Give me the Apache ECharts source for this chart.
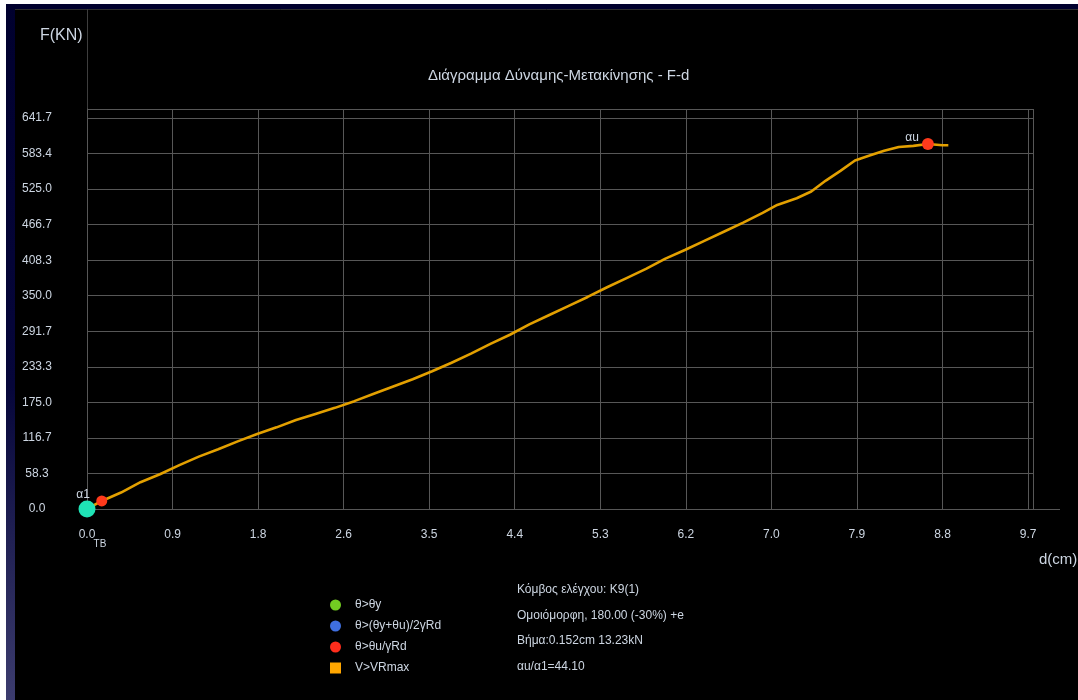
<!DOCTYPE html>
<html><head><meta charset="utf-8">
<script src="https://cdn.jsdelivr.net/npm/echarts@6/dist/echarts.min.js"></script>
<style>
html,body{margin:0;padding:0;background:#000;overflow:hidden;}
#chart{position:absolute;left:0;top:0;width:1078px;height:700px;}
.strip{position:absolute;}
</style></head><body>
<div id="chart"></div>
<div class="strip" style="left:0;top:0;width:6px;height:700px;background:#fff"></div>
<div class="strip" style="left:0;top:0;width:1078px;height:4px;background:#fff"></div>
<div class="strip" style="left:6px;top:4px;width:9px;height:696px;background:linear-gradient(#00002e,#06063a 55%,#3c3c6e)"></div>
<div class="strip" style="left:6px;top:4px;width:1072px;height:5px;background:#00002e"></div>
<script>
// ---- data ----
const dispCm = [0, 0.152, 0.35, 0.55, 0.75, 0.95, 1.15, 1.35, 1.55, 1.75, 1.95, 2.15, 2.35, 2.55, 2.75, 2.95, 3.15, 3.35, 3.55, 3.75, 3.95, 4.15, 4.35, 4.55, 4.75, 4.95, 5.15, 5.35, 5.55, 5.75, 5.95, 6.15, 6.35, 6.55, 6.75, 6.95, 7.1, 7.3, 7.45, 7.6, 7.75, 7.9, 8.05, 8.2, 8.35, 8.5, 8.65, 8.8, 8.86];
const forceKN = [0, 13.23, 27, 44, 57, 72, 86, 98, 111, 123, 134, 146, 156, 166, 177, 189, 201, 213, 226, 240, 255, 271, 286, 303, 318, 333, 348, 364, 379, 394, 411, 425, 440, 455, 470, 486, 499, 510, 521, 539, 555, 572, 580, 588, 594, 596, 599, 597, 597];
const xTickStep = 0.88;      // tick labels 0.0 ... 9.7
const xTickLast = 9.68;
const yTickStep = 58.3353;   // tick labels 0.0 ... 641.7
const yTickLast = 641.688;
const startPoint = [0, 0];           // α1 / TB
const firstYield = [0.152, 13.23];   // first red point
const ultimatePoint = [8.65, 599];   // αu
const legendNames = ['θ>θy', 'θ>(θy+θu)/2γRd', 'θ>θu/γRd', 'V>VRmax'];
const legendColors = ['#72cc22', '#3f6fe0', '#ff2d1c', '#ffa600'];
const legendIcons = ['circle', 'circle', 'circle', 'rect'];
const infoLines = ['Κόμβος ελέγχου: K9(1)', 'Ομοιόμορφη, 180.00 (-30%) +e', 'Βήμα:0.152cm 13.23kN', 'αu/α1=44.10'];
const titleText = 'Διάγραμμα Δύναμης-Μετακίνησης - F-d';

const FONT = 'Liberation Sans, Arial, sans-serif';
const TXT = '#cdd6e2';
const GRIDC = '#575757';

const chart = echarts.init(document.getElementById('chart'), null, {renderer: 'canvas'});
const curve = dispCm.map((d, i) => [d, forceKN[i]]);

const legendSeries = legendNames.map((n, i) => ({
  name: n, type: 'scatter', data: [], itemStyle: {color: legendColors[i], opacity: 1}
}));

chart.setOption({
  backgroundColor: '#000',
  animation: false,
  title: [
    {text: titleText, left: 423, top: 63, textStyle: {color: TXT, fontSize: 15, fontWeight: 'normal', fontFamily: FONT}},
    {text: 'F(KN)', left: 35, top: 23, textStyle: {color: TXT, fontSize: 16, fontWeight: 'normal', fontFamily: FONT}},
    {text: 'd(cm)', left: 1034, top: 547, textStyle: {color: TXT, fontSize: 15, fontWeight: 'normal', fontFamily: FONT}},
    {text: infoLines.join('\n'), left: 512, top: 572, textStyle: {color: TXT, fontSize: 12, lineHeight: 25.5, fontWeight: 'normal', fontFamily: FONT}}
  ],
  legend: {
    orient: 'vertical', left: 325, top: 594, itemWidth: 11, itemHeight: 11, itemGap: 9,
    textStyle: {color: TXT, fontSize: 12, fontFamily: FONT, lineHeight: 11, padding: [0, 0, 0, 9]},
    data: legendNames.map((n, i) => ({name: n, icon: legendIcons[i]})),
    selectedMode: false
  },
  grid: {left: 87, top: 109, width: 946, height: 400, containLabel: false},
  xAxis: {
    type: 'value', min: 0, max: xTickLast + 0.051, interval: xTickStep,
    axisLine: {show: true, lineStyle: {color: GRIDC, width: 1}},
    axisTick: {show: false},
    splitLine: {show: true, lineStyle: {color: GRIDC, width: 1}},
    axisLabel: {color: TXT, fontSize: 12, fontFamily: FONT, margin: 20,
      formatter: v => v > xTickLast + 0.01 ? '' : v.toFixed(1)}
  },
  yAxis: {
    type: 'value', min: 0, max: yTickLast + 14.8, interval: yTickStep,
    axisLine: {show: true, lineStyle: {color: GRIDC, width: 1}},
    axisTick: {show: false},
    splitLine: {show: true, lineStyle: {color: GRIDC, width: 1}},
    axisLabel: {color: TXT, fontSize: 12, fontFamily: FONT, margin: 50, align: 'center',
      padding: [0, 0, 7, 0],
      formatter: v => v > yTickLast + 1 ? '' : v.toFixed(1)}
  },
  graphic: [
    {type: 'line', shape: {x1: 15, y1: 9.5, x2: 1078, y2: 9.5}, style: {stroke: '#2e2e2e', lineWidth: 1}, silent: true},
    {type: 'line', shape: {x1: 87.5, y1: 9, x2: 87.5, y2: 109}, style: {stroke: '#3e3e3e', lineWidth: 1}, silent: true},
    {type: 'line', shape: {x1: 1033, y1: 509.5, x2: 1060, y2: 509.5}, style: {stroke: GRIDC, lineWidth: 1}, silent: true}
  ],
  series: [
    {type: 'line', name: 'F-d', data: curve, showSymbol: false, symbol: 'none',
     lineStyle: {color: '#e3a000', width: 2.6}, z: 3},
    {type: 'scatter', name: 'points', z: 5,
     label: {show: true, color: TXT, fontSize: 12, fontFamily: FONT},
     data: [
       {value: startPoint, symbolSize: 17, itemStyle: {color: '#1fe3b6', opacity: 1},
        label: {formatter: 'α1', position: 'top', offset: [-4, 5]}},
       {value: firstYield, symbolSize: 11, itemStyle: {color: '#ff3a1c', opacity: 1}, label: {show: false}},
       {value: ultimatePoint, symbolSize: 12, itemStyle: {color: '#ff3a1c', opacity: 1},
        label: {formatter: 'αu', position: 'left', offset: [2, -6]}},
       {value: startPoint, symbolSize: 2, itemStyle: {color: 'rgba(0,0,0,0)', opacity: 1},
        label: {formatter: 'TB', position: 'inside', offset: [13, 35], fontSize: 10}}
     ]},
    ...legendSeries
  ]
});
</script>
</body></html>
